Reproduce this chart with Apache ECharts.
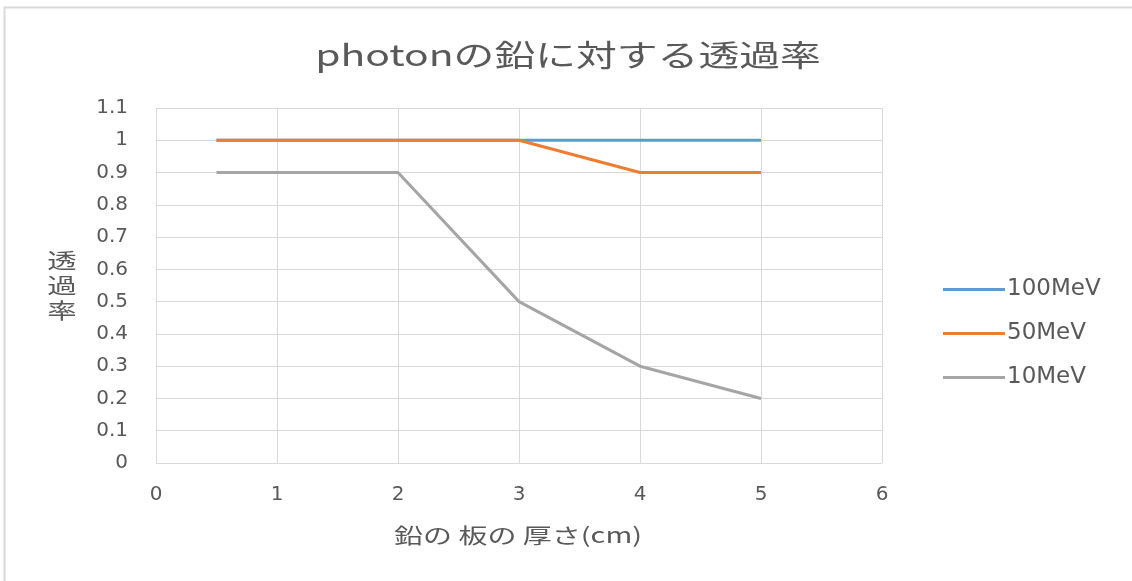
<!DOCTYPE html>
<html><head><meta charset="utf-8">
<script src="https://cdn.jsdelivr.net/npm/echarts@6/dist/echarts.min.js"></script>
<style>html,body{margin:0;padding:0;background:#fff}#c{width:1132px;height:581px}</style>
</head><body><div id="c"></div>
<script>
const xValues = [0.5, 2, 3, 4, 5];
const seriesNames = ['100MeV', '50MeV', '10MeV'];
const s100 = [1, 1, 1, 1, 1];
const s50 = [1, 1, 1, 0.9, 0.9];
const s10 = [0.9, 0.9, 0.5, 0.3, 0.2];
const colors = ['#5b9bd5', '#ed7d31', '#a5a5a5'];
const titleText = 'photonの鉛に対する透過率';
const xName = '鉛の 板の 厚さ(cm)';
const yName = '透過率';

const cjk = '"Noto Sans CJK JP", sans-serif';
const lat = '"DejaVu Sans", "Noto Sans CJK JP", sans-serif';
const txt = '#595959';
const chart = echarts.init(document.getElementById('c'));
const mk = (arr) => xValues.map((x, i) => [x, arr[i]]);
const all = [s100, s50, s10];
function stretched(text, x, y, size, sx, lh) {
  return {type: 'text', x: x, y: y, scaleX: sx, z: 10,
    style: {text: text, x: 0, y: 0, font: size + 'px ' + cjk, fill: txt,
      textAlign: 'center', textVerticalAlign: 'middle', align: 'center', verticalAlign: 'middle',
      lineHeight: lh || size}};
}
chart.setOption({
  animation: false,
  graphic: [
    {type: 'rect', shape: {x: 4.5, y: 7.5, width: 1300, height: 800}, style: {fill: 'none', stroke: '#d9d9d9', lineWidth: 2}, z: 0},
    stretched(titleText, 568, 55, 30, 1.36),
    stretched(xName, 518, 535, 21, 1.38),
    stretched(yName.split('').join('\n'), 62, 285, 21, 1.4, 25)
  ],
  grid: {left: 156, right: 250, top: 108, bottom: 118},
  legend: {
    orient: 'vertical', left: 938, top: 273, itemGap: 21, itemWidth: 62, itemHeight: 3,
    icon: 'rect', data: seriesNames,
    textStyle: {fontFamily: lat, fontSize: 23, color: txt, padding: [0, 0, 0, -3]}
  },
  xAxis: {
    type: 'value', min: 0, max: 6, interval: 1,
    axisLine: {show: false}, axisTick: {show: false},
    axisLabel: {fontFamily: lat, fontSize: 20, color: txt, margin: 22},
    splitLine: {show: true, lineStyle: {color: '#d9d9d9', width: 1}}
  },
  yAxis: {
    type: 'value', min: 0, max: 1.1, interval: 0.1,
    axisLine: {show: false}, axisTick: {show: false},
    axisLabel: {fontFamily: lat, fontSize: 20, color: txt, margin: 28,
      formatter: v => String(Math.round(v * 10) / 10)},
    splitLine: {show: true, lineStyle: {color: '#d9d9d9', width: 1}}
  },
  series: seriesNames.map((n, i) => ({
    name: n, type: 'line', data: mk(all[i]), showSymbol: false, symbol: 'none',
    lineStyle: {color: colors[i], width: 3}, itemStyle: {color: colors[i]}, z: 2 + i
  }))
});
</script></body></html>
